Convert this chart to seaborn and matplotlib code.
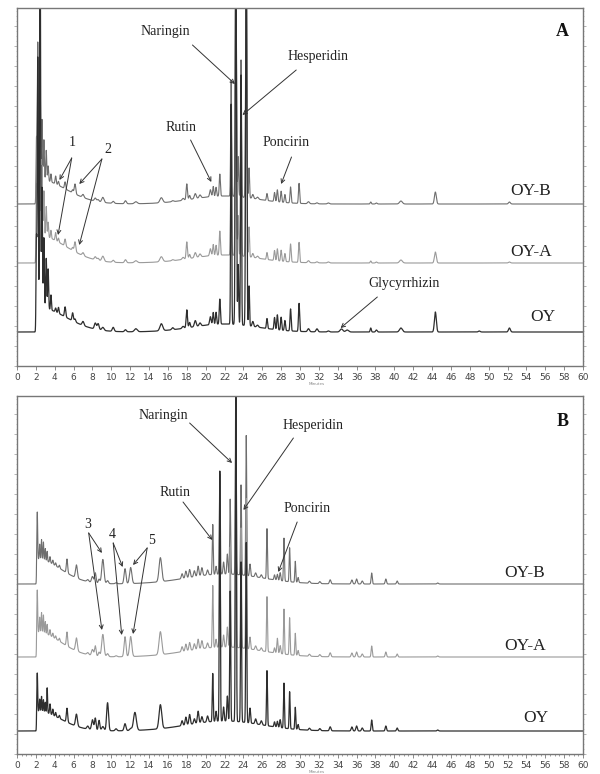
import numpy as np
import pandas as pd
import seaborn as sns
import matplotlib.pyplot as plt
from matplotlib.ticker import MultipleLocator

# ---------------- data ----------------
# retention time axis of the chromatograms (minutes)
T = np.arange(0, 60.001, 0.01)

TRACES = ["OY-B", "OY-A", "OY"]
COLORS = {"OY-B": "#6e6e6e", "OY-A": "#9a9a9a", "OY": "#2e2e2e"}

# --- panel A : baselines (height above x axis, same units as y axis) ---
A_BASE = {"OY-B": 162, "OY-A": 103, "OY": 34}
# sharp peaks: retention time, width, heights per sample
A_RT = [2.05, 2.2, 2.45, 2.65, 2.85, 3.1, 3.3, 3.6, 4.1, 4.4, 5.1, 5.9, 6.15, 7.0,
        8.3, 8.6, 9.1, 10.2, 11.5, 12.6, 15.3, 16.5, 17.6, 18.0, 18.3, 18.9, 19.4,
        20.5, 20.8, 21.1, 21.5, 22.7, 23.2, 23.45, 23.75, 24.3, 24.6, 25.0, 25.5,
        26.5, 27.3, 27.6, 28.0, 28.4, 29.0, 29.9, 30.9, 31.8, 33.0, 34.4, 35.0,
        37.5, 38.1, 40.7, 44.35, 49.0, 52.2]
A_W = [0.04, 0.05, 0.05, 0.05, 0.05, 0.05, 0.05, 0.05, 0.06, 0.06, 0.07, 0.07, 0.08, 0.1,
       0.1, 0.1, 0.12, 0.1, 0.1, 0.15, 0.15, 0.1, 0.1, 0.07, 0.07, 0.1, 0.1,
       0.08, 0.06, 0.06, 0.06, 0.05, 0.06, 0.05, 0.05, 0.06, 0.05, 0.08, 0.1,
       0.06, 0.06, 0.06, 0.06, 0.06, 0.06, 0.06, 0.1, 0.1, 0.1, 0.15, 0.15,
       0.06, 0.08, 0.15, 0.1, 0.1, 0.1]
A_OYB = [50, 137, 100, 60, 40, 30, 15, 8, 8, 4, 7, 3, 10, 3,
         3, 2, 5, 2, 3, 2, 5, 1, 2, 16, 4, 5, 3,
         7, 10, 9, 22, 116, 250, 40, 137, 250, 30, 4, 2,
         7, 9, 12, 11, 8, 16, 20, 2, 1, 1, 0, 0,
         2, 1, 3, 12, 0, 2]
A_OYA = [60, 160, 120, 70, 45, 30, 15, 8, 8, 4, 7, 3, 10, 3,
         3, 2, 5, 2, 3, 2, 5, 1, 2, 17, 4, 5, 3,
         7, 11, 10, 24, 150, 300, 40, 180, 300, 30, 4, 2,
         7, 10, 12, 11, 8, 18, 20, 2, 1, 1, 0, 0,
         2, 1, 3, 11, 0, 1]
A_OY = [80, 250, 400, 120, 70, 50, 40, 15, 4, 6, 10, 8, 3, 4,
        6, 6, 3, 4, 2, 3, 7, 2, 2, 18, 5, 6, 3,
        8, 12, 12, 25, 220, 400, 60, 250, 400, 40, 5, 2,
        10, 12, 15, 13, 10, 22, 28, 3, 3, 1, 3, 2,
        4, 2, 4, 20, 1, 4]
# broad components: solvent front tail and gradient hump
A_BROAD_RT = [2.1, 22.0]
A_BROAD_WL = [0.04, 3.5]
A_BROAD_WR = [3.0, 3.5]
A_BROAD = {"OY-B": [25, 8], "OY-A": [28, 8], "OY": [25, 8]}

# --- panel B ---
B_BASE = {"OY-B": 170, "OY-A": 97, "OY": 23}
B_RT = [2.15, 2.4, 2.6, 2.8, 3.0, 3.2, 3.5, 3.8, 4.1, 4.5, 5.3, 6.3, 7.5, 8.0, 8.3,
        8.7, 9.1, 9.6, 10.5, 11.45, 12.05, 12.5, 15.2, 17.5, 17.9, 18.3, 18.8,
        19.2, 19.6, 20.2, 20.75, 21.1, 21.5, 21.9, 22.3, 22.6, 23.2, 23.75, 24.3,
        24.7, 25.3, 25.9, 26.5, 27.3, 27.6, 27.9, 28.3, 28.9, 29.5, 29.8, 31.0,
        32.1, 33.2, 35.5, 36.0, 36.6, 37.6, 39.1, 40.3, 44.6]
B_W = [0.04, 0.04, 0.04, 0.04, 0.04, 0.04, 0.05, 0.05, 0.05, 0.06, 0.07, 0.1, 0.1, 0.1, 0.08,
       0.08, 0.12, 0.1, 0.1, 0.1, 0.12, 0.15, 0.14, 0.08, 0.08, 0.08, 0.08,
       0.08, 0.08, 0.08, 0.05, 0.06, 0.05, 0.06, 0.06, 0.05, 0.05, 0.05, 0.05,
       0.06, 0.08, 0.08, 0.05, 0.06, 0.06, 0.06, 0.05, 0.05, 0.05, 0.06, 0.08,
       0.08, 0.08, 0.08, 0.08, 0.08, 0.06, 0.07, 0.07, 0.08]
B_OYB = [47, 15, 20, 18, 12, 10, 6, 4, 3, 3, 14, 13, 2, 6, 10,
         4, 24, 3, 1, 15, 16, 0, 24, 5, 7, 8, 6,
         10, 8, 5, 50, 8, 100, 12, 20, 75, 160, 90, 140,
         12, 4, 3, 50, 5, 6, 8, 43, 34, 21, 5, 2,
         2, 4, 4, 5, 3, 11, 5, 3, 1]
B_OYA = [42, 15, 20, 18, 12, 10, 6, 4, 3, 3, 14, 13, 2, 6, 10,
         4, 22, 3, 1, 20, 20, 0, 23, 5, 7, 8, 6,
         10, 8, 5, 62, 8, 110, 12, 20, 100, 200, 120, 150,
         12, 4, 3, 55, 5, 15, 8, 45, 37, 22, 5, 2,
         2, 4, 4, 5, 3, 11, 5, 3, 1]
B_OY = [38, 12, 15, 12, 10, 25, 10, 6, 4, 3, 14, 12, 3, 10, 12,
        10, 4, 28, 2, 7, 2, 18, 24, 5, 8, 10, 5,
        12, 6, 6, 48, 10, 250, 14, 25, 130, 400, 160, 180,
        15, 5, 4, 55, 5, 6, 8, 45, 37, 22, 5, 2,
        2, 4, 4, 5, 3, 11, 5, 3, 1]
B_BROAD_RT = [2.1, 22.0]
B_BROAD_WL = [0.03, 4.0]
B_BROAD_WR = [2.5, 4.0]
B_BROAD = {"OY-B": [25, 10], "OY-A": [25, 10], "OY": [20, 10]}

# --- annotations: (text, text x, text y, arrow targets) ---
A_LABELS = [("Naringin", 15.7, 334, [(18.6, 321, 23.1, 282)]),
            ("Hesperidin", 31.9, 309, [(29.6, 296, 23.9, 251)]),
            ("Rutin", 17.4, 238, [(18.4, 226, 20.6, 184)]),
            ("Poncirin", 28.5, 223, [(29.1, 209, 28.0, 182)]),
            ("1", 5.9, 223, [(5.8, 208, 4.5, 186), (5.8, 208, 4.35, 131)]),
            ("2", 9.6, 216, [(9.0, 207, 6.6, 182), (9.0, 207, 6.6, 121)]),
            ("Glycyrrhizin", 41.0, 82, [(38.2, 69, 34.3, 38)])]
B_LABELS = [("Naringin", 15.5, 339, [(18.3, 331, 22.8, 291)]),
            ("Hesperidin", 31.4, 329, [(29.3, 316, 24.0, 244)]),
            ("Rutin", 16.7, 261, [(17.6, 252, 20.7, 214)]),
            ("Poncirin", 30.8, 246, [(29.7, 232, 27.7, 182)]),
            ("3", 7.5, 230, [(7.6, 221, 9.0, 201), (7.6, 221, 9.0, 124)]),
            ("4", 10.1, 220, [(10.2, 211, 11.2, 187), (10.2, 211, 11.1, 119)]),
            ("5", 14.3, 214, [(13.8, 206, 12.3, 189), (13.8, 206, 12.3, 120)])]
A_NAMES = [("OY-B", 54.5, 175), ("OY-A", 54.5, 114), ("OY", 55.7, 49)]
B_NAMES = [("OY-B", 53.8, 181), ("OY-A", 53.9, 108), ("OY", 55.0, 36)]

# ---------------- style ----------------
sns.set_style("ticks")
plt.rcParams["font.family"] = ["Liberation Serif", "DejaVu Serif"]
SERIF = ["Liberation Serif", "DejaVu Serif"]


def build_trace(rt, w, heights, base, brt, bwl, bwr, bh):
    y = np.full_like(T, float(base))
    for t0, s, a in zip(rt, w, heights):
        y += a * np.exp(-0.5 * ((T - t0) / s) ** 2)
    for t0, sl, sr, a in zip(brt, bwl, bwr, bh):
        sig = np.where(T < t0, sl, sr)
        y += a * np.exp(-0.5 * ((T - t0) / sig) ** 2)
    return y


def draw_panel(ax, rt, w, heights, base, brt, bwl, bwr, broad, labels, names, letter, minor_x):
    for name in TRACES:
        y = build_trace(rt, w, heights[name], base[name], brt, bwl, bwr, broad[name])
        df = pd.DataFrame({"time": T, "signal": y})
        sns.lineplot(data=df, x="time", y="signal", ax=ax, color=COLORS[name],
                     linewidth=0.9 if name == "OY" else 0.8,
                     estimator=None, sort=False, legend=False)

    ax.set_xlim(0, 60)
    ax.set_ylim(0, 358)
    ax.set_xlabel("")
    ax.set_ylabel("")
    ax.xaxis.set_major_locator(MultipleLocator(2))
    if minor_x:
        ax.xaxis.set_minor_locator(MultipleLocator(0.5))
    ax.yaxis.set_major_locator(MultipleLocator(20))
    ax.yaxis.set_minor_locator(MultipleLocator(5))
    ax.tick_params(axis="x", labelsize=6.5, labelcolor="#444444", length=3, width=0.6,
                   color="#777777", pad=2, labelfontfamily="DejaVu Sans")
    ax.tick_params(axis="x", which="minor", length=1.5, width=0.5, color="#777777")
    ax.tick_params(axis="y", which="both", left=True, right=True, labelleft=False,
                   length=2, width=0.5, color="#999999")
    ax.tick_params(axis="y", which="minor", length=1, width=0.4)
    for sp in ax.spines.values():
        sp.set_visible(True)
        sp.set_color("#777777")
        sp.set_linewidth(1.0)

    for text, tx, ty, arrows in labels:
        ax.text(tx, ty, text, ha="center", va="center", fontsize=10,
                family=SERIF, color="#222222")
        for x0, y0, x1, y1 in arrows:
            ax.annotate("", xy=(x1, y1), xytext=(x0, y0),
                        arrowprops=dict(arrowstyle="->", color="#333333", lw=0.7,
                                        shrinkA=0, shrinkB=0, mutation_scale=7))
    for text, tx, ty in names:
        ax.text(tx, ty, text, ha="center", va="center", fontsize=12.5,
                family=SERIF, color="#222222")
    ax.text(57.8, 334 if letter == "A" else 333, letter, ha="center", va="center",
            fontsize=13, fontweight="bold", family=SERIF, color="#111111")
    ax.text(31.8, -18, "Minutes", ha="center", va="center", fontsize=3,
            color="#888888", family="DejaVu Sans")


fig = plt.figure(figsize=(6, 7.74), dpi=100)
axA = fig.add_axes([17 / 600, (774 - 366) / 774, 566 / 600, 358 / 774])
axB = fig.add_axes([17 / 600, (774 - 754) / 774, 566 / 600, 358 / 774])

draw_panel(axA, A_RT, A_W, {"OY-B": A_OYB, "OY-A": A_OYA, "OY": A_OY}, A_BASE,
           A_BROAD_RT, A_BROAD_WL, A_BROAD_WR, A_BROAD, A_LABELS, A_NAMES, "A", False)
draw_panel(axB, B_RT, B_W, {"OY-B": B_OYB, "OY-A": B_OYA, "OY": B_OY}, B_BASE,
           B_BROAD_RT, B_BROAD_WL, B_BROAD_WR, B_BROAD, B_LABELS, B_NAMES, "B", True)

fig.savefig("out.png", dpi=100, facecolor="white")
